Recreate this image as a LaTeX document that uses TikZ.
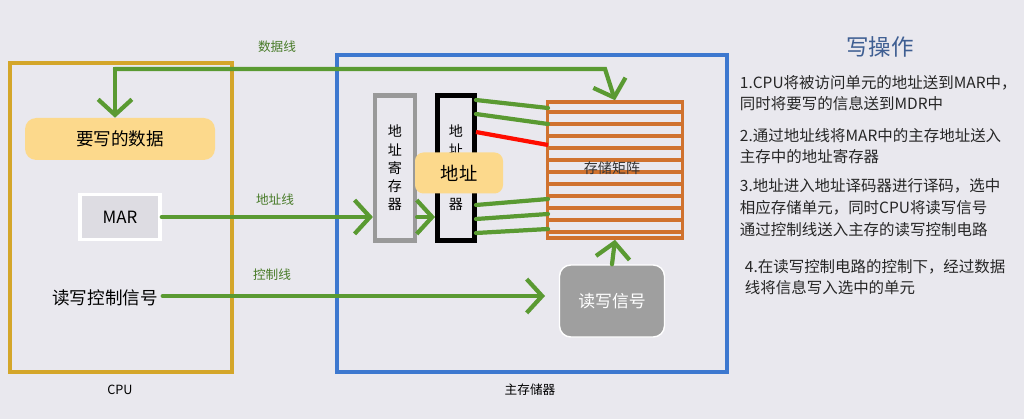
\documentclass[tikz,border=0pt]{standalone}
\usepackage{fontspec}
\setmainfont{Noto Sans CJK SC}
\usetikzlibrary{arrows.meta}
\definecolor{bg}{HTML}{E9E8EE}
\definecolor{gr}{HTML}{5A9A32}
\definecolor{cpuc}{HTML}{D4A62A}
\definecolor{memc}{HTML}{3D78CF}
\definecolor{orc}{HTML}{D0722E}
\definecolor{yel}{HTML}{FCD98C}
\definecolor{titc}{HTML}{3E5E92}
\tikzset{
 wire/.style={draw=gr,line width=3pt,line cap=round},
 arr/.style={wire,-{Straight Barb[length=11pt,width=24pt,line width=3pt]}},
 lab/.style={text=gr!80!black,font=\fontsize{9}{10}\selectfont},
 boxcap/.style={font=\fontsize{9}{10}\selectfont},
 vtext/.style={align=center,font=\fontsize{10}{13}\selectfont},
 note/.style={anchor=north west,align=left,font=\fontsize{11}{15.5}\selectfont,text=black!85}
}
\begin{document}
\begin{tikzpicture}[x=0.025cm,y=-0.025cm]
\fill[bg] (0,0) rectangle (1024,419);
\useasboundingbox (0,0) rectangle (1024,419);
% boxes
\draw[cpuc,line width=3pt] (10,63) rectangle (232,372);
\draw[memc,line width=3pt] (337,55) rectangle (727,372);
\node[boxcap] (cpul) at (120,390) {CPU};
\node[boxcap] (meml) at (530,390) {主存储器};
% matrix
\node[draw=orc,line width=2.5pt,minimum width=135*0.025cm,minimum height=136*0.025cm,inner sep=0] (mat) at (615,170) {};
\foreach \yy in {112,124,...,232}{\draw[orc,line width=2.5pt] (548,\yy) -- (683,\yy);}
\node[text=black!80,font=\fontsize{10}{12}\selectfont] at (612,168) {存储矩阵};
% registers
\node[draw=gray!80,line width=3pt,fill=bg,minimum width=40*0.025cm,minimum height=145*0.025cm,vtext] (ar) at (395,168) {地\\址\\寄\\存\\器};
\node[draw=black,line width=3.5pt,fill=bg,minimum width=37*0.025cm,minimum height=145*0.025cm,vtext] (dec) at (456,168) {地\\址\\~\\~\\器};
\node[fill=yel,rounded corners=6pt,minimum width=88*0.025cm,minimum height=41*0.025cm,font=\fontsize{13}{15}\selectfont] (addr) at (459,173) {地址};
% decoder to matrix wires
\draw[wire] (476,100) -- (548,108);
\draw[wire] (476,114) -- (548,124);
\draw[draw=red!90!orange,line width=3pt] (476,132) -- (548,145);
\draw[wire] (476,205) -- (548,199);
\draw[wire] (476,219) -- (548,214);
\draw[wire] (476,233) -- (548,229);
% rw signal
\node[fill=gray!75,draw=white,line width=1pt,rounded corners=8pt,minimum width=105*0.025cm,minimum height=72*0.025cm,text=white,font=\fontsize{12}{14}\selectfont] (rw) at (612,301) {读写信号};
\draw[arr] (rw.north) -- (mat.south);
% CPU contents
\node[fill=yel,rounded corners=8pt,minimum width=190*0.025cm,minimum height=42*0.025cm,font=\fontsize{12.5}{14}\selectfont] (data) at (120,139) {要写的数据};
\node[draw=white,line width=2.5pt,fill=bg!95!black,minimum width=80*0.025cm,minimum height=45*0.025cm,font=\fontsize{12}{14}\selectfont] (mar) at (120,217) {MAR};
\node[font=\fontsize{12.5}{14}\selectfont] (rwc) at (105,298) {读写控制信号};
% buses
\coordinate (dl) at (115,69);
\coordinate (dr) at (605,69);
\draw[arr] (dr) -- (dl) -- (data.north -| dl);
\draw[arr] (dl) -- (dr) -- (mat.north);
\draw[arr] (mar.east) -- (ar.west |- mar.east);
\draw[arr] (ar.east |- mar.east) -- (dec.west |- mar.east);
\coordinate (rwend) at (545,296);
\draw[arr] (rwc.east |- rwend) -- (rwend);
\node[lab] (l1) at (277,47) {数据线};
\node[lab] (l2) at (275,200) {地址线};
\node[lab] (l3) at (272,275) {控制线};
% notes
\node[text=titc,font=\fontsize{16}{18}\selectfont] (title) at (880,47) {写操作};
\node[note] (n1) at (735,70) {1.CPU将被访问单元的地址送到MAR中，\\同时将要写的信息送到MDR中};
\node[note] (n2) at (735,123) {2.通过地址线将MAR中的主存地址送入\\主存中的地址寄存器};
\node[note] (n3) at (735,174) {3.地址进入地址译码器进行译码，选中\\相应存储单元，同时CPU将读写信号\\通过控制线送入主存的读写控制电路};
\node[note] (n4) at (740,254) {4.在读写控制电路的控制下，经过数据\\线将信息写入选中的单元};
\end{tikzpicture}
\end{document}
